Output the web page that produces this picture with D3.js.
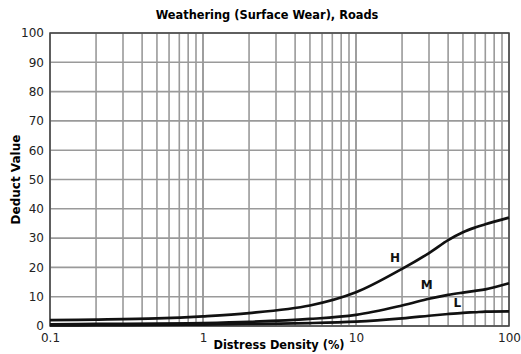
<!DOCTYPE html>
<meta charset="utf-8">
<style>
	body { margin: 0; padding: 0; background: #ffffff; }
	.grid line { stroke: #9a9a9a; stroke-width: 1.6px; }
	.axis text { font: 12px 'DejaVu Sans', sans-serif; fill: #222; }
	.axis path, .axis line { stroke: none; }
	.curve { fill: none; stroke: #111; stroke-width: 2.7px; }
	.lbl { font: bold 12px 'DejaVu Sans', sans-serif; fill: #111; }
</style>
<body>
<svg class="chart"></svg>
<script src="https://d3js.org/d3.v7.min.js"></script>
<script>

var density = [0.1, 0.2, 0.5, 1, 2, 5, 10, 20, 30, 40, 50, 60, 70, 100];
var highDV = [2.0, 2.2, 2.6, 3.3, 4.4, 7.0, 11.5, 19.5, 24.9, 29.3, 32.0, 33.6, 34.7, 37.0];
var mediumDV = [0.6, 0.7, 0.8, 1.0, 1.4, 2.4, 3.8, 7.0, 9.3, 10.6, 11.4, 12.0, 12.5, 14.6];
var lowDV = [0.2, 0.25, 0.35, 0.5, 0.7, 1.0, 1.5, 2.6, 3.5, 4.1, 4.5, 4.7, 4.9, 5.0];
var severities = ["H", "M", "L"];
var labelAt = [{x: 18, y: 22}, {x: 29, y: 12.5}, {x: 46, y: 6.5}];
var xTicks = [0.1, 1, 10, 100];
var yTicks = [0, 10, 20, 30, 40, 50, 60, 70, 80, 90, 100];

var W = 521, H = 354;
var margin = {top: 33, right: 12, bottom: 28, left: 50};
var width = W - margin.left - margin.right;
var height = H - margin.top - margin.bottom;

var svg = d3.select(".chart").attr("width", W).attr("height", H);
var chart = svg.append("g")
    .attr("transform", "translate(" + margin.left + "," + margin.top + ")");

var x = d3.scaleLog().domain([0.1, 100]).range([0, width]);
var y = d3.scaleLinear().domain([0, 100]).range([height, 0]);

// minor + major vertical gridlines
var xGrid = [];
[0.1, 1, 10].forEach(function(d) {
	for (var k = 1; k <= 10; k++) xGrid.push(d * k);
});

chart.append("g").attr("class", "grid")
  .selectAll("line").data(xGrid)
  .enter().append("line")
    .attr("x1", function(d) { return x(d); })
    .attr("x2", function(d) { return x(d); })
    .attr("y1", 0).attr("y2", height);

chart.append("g").attr("class", "grid")
  .selectAll("line").data(yTicks)
  .enter().append("line")
    .attr("x1", 0).attr("x2", width)
    .attr("y1", function(d) { return y(d); })
    .attr("y2", function(d) { return y(d); });

chart.append("rect")
    .attr("width", width).attr("height", height)
    .attr("fill", "none").attr("stroke", "#444").attr("stroke-width", 1.5);

chart.append("g")
    .attr("class", "axis")
    .attr("transform", "translate(0," + height + ")")
    .call(d3.axisBottom(x).tickValues(xTicks).tickFormat(d3.format("")).tickSize(0).tickPadding(7));

chart.append("g")
    .attr("class", "axis")
    .call(d3.axisLeft(y).tickValues(yTicks).tickSize(0).tickPadding(6));

var line = d3.line()
    .x(function(d) { return x(d[0]); })
    .y(function(d) { return y(d[1]); })
    .curve(d3.curveCatmullRom.alpha(0.5));

[highDV, mediumDV, lowDV].forEach(function(vals, i) {
	chart.append("path")
	    .datum(d3.zip(density, vals))
	    .attr("class", "curve")
	    .attr("d", line);
	chart.append("text")
	    .attr("class", "lbl")
	    .attr("x", x(labelAt[i].x))
	    .attr("y", y(labelAt[i].y))
	    .attr("text-anchor", "middle")
	    .text(severities[i]);
});

svg.append("text")
    .attr("x", 267).attr("y", 19)
    .attr("text-anchor", "middle")
    .style("font", "bold 11.4px 'DejaVu Sans', sans-serif")
    .text("Weathering (Surface Wear), Roads");

svg.append("text")
    .attr("x", 279).attr("y", 349)
    .attr("text-anchor", "middle")
    .style("font", "bold 11.4px 'DejaVu Sans', sans-serif")
    .text("Distress Density (%)");

svg.append("text")
    .attr("transform", "translate(20," + (margin.top + height / 2) + ") rotate(-90)")
    .attr("text-anchor", "middle")
    .style("font", "bold 12px 'DejaVu Sans', sans-serif")
    .text("Deduct Value");

</script>
</body>
